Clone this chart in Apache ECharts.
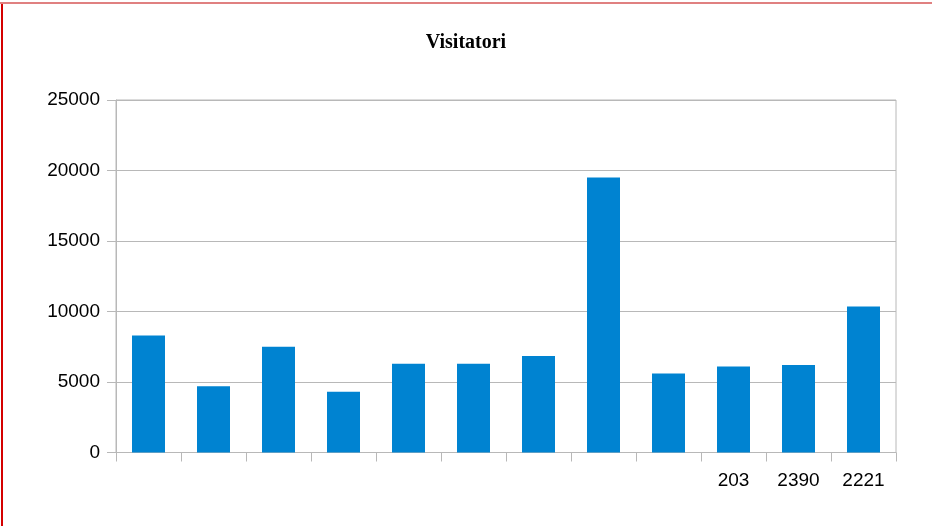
<!DOCTYPE html>
<html>
<head>
<meta charset="utf-8">
<script src="https://cdn.jsdelivr.net/npm/echarts@6/dist/echarts.min.js"></script>
<style>
html,body{margin:0;padding:0;background:#fff;}
#chart{width:932px;height:526px;}
</style>
</head>
<body>
<div id="chart"></div>
<script>
var chartTitle = 'Visitatori';
var categories = ['', '', '', '', '', '', '', '', '', '203', '2390', '2221'];
var visitors = [8300, 4700, 7500, 4300, 6300, 6300, 6850, 19500, 5600, 6100, 6200, 10350];
var yMin = 0, yMax = 25000, yStep = 5000;

var chart = echarts.init(document.getElementById('chart'), null, {renderer: 'canvas'});
chart.setOption({
  animation: false,
  backgroundColor: '#ffffff',
  title: {
    text: chartTitle,
    left: 'center',
    top: 28,
    textStyle: {fontFamily: 'Liberation Serif', fontWeight: 'bold', fontSize: 20, color: '#000'}
  },
  grid: {left: 116, right: 36, top: 100, bottom: 73.5, show: true, borderColor: '#b8b8b8', borderWidth: 1},
  xAxis: {
    type: 'category',
    data: categories,
    axisLine: {lineStyle: {color: '#b8b8b8', width: 1}},
    axisTick: {show: true, length: 9, lineStyle: {color: '#b8b8b8'}},
    axisLabel: {interval: 0, margin: 19, fontFamily: 'Liberation Sans', fontSize: 19, color: '#000'}
  },
  yAxis: {
    type: 'value',
    min: yMin, max: yMax, interval: yStep,
    axisLine: {show: true, lineStyle: {color: '#b8b8b8', width: 1}},
    axisTick: {show: true, length: 9, lineStyle: {color: '#b8b8b8'}},
    splitLine: {show: true, lineStyle: {color: '#b8b8b8', width: 1}},
    axisLabel: {margin: 16, fontFamily: 'Liberation Sans', fontSize: 19, color: '#000',
      formatter: function (v) { return String(v); }}
  },
  series: [{
    type: 'bar',
    data: visitors,
    barWidth: 33,
    itemStyle: {color: '#0083d1'}
  }],
  graphic: [
    {type: 'line', shape: {x1: 2, y1: 2, x2: 2, y2: 526}, style: {stroke: '#d40000', lineWidth: 2}, silent: true},
    {type: 'line', shape: {x1: 0, y1: 3, x2: 932, y2: 3}, style: {stroke: '#e08080', lineWidth: 2}, silent: true}
  ]
});
</script>
</body>
</html>
